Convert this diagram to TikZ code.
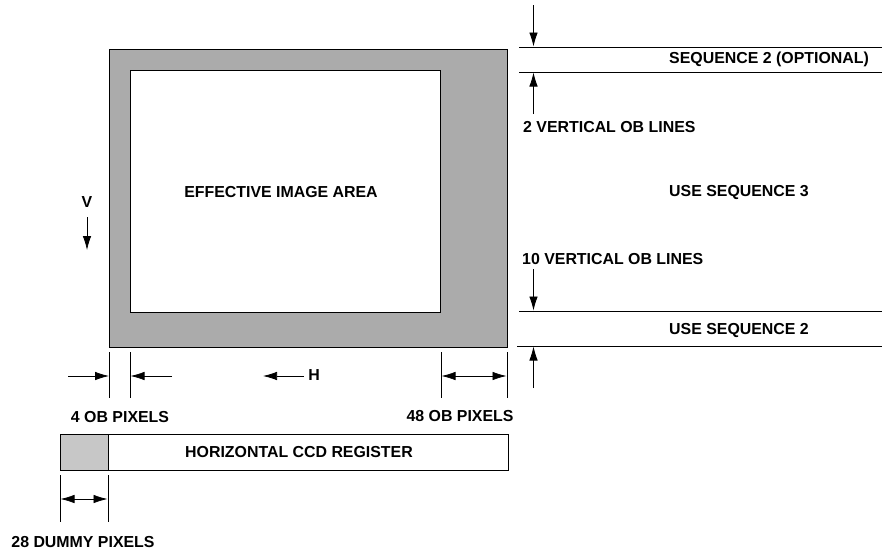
\documentclass[tikz,border=0pt]{standalone}
\usepackage{fontspec}
\setmainfont{Liberation Sans}
\usetikzlibrary{arrows.meta}
\begin{document}
\begin{tikzpicture}[x=1pt,y=-1pt,
 lbl/.style={font=\fontsize{15.9}{18}\selectfont\bfseries,inner sep=0pt},
 box/.style={draw=black,line width=1.1pt,anchor=north west,inner sep=0pt},
 conn/.style={line width=0.75pt},
 arr/.style={line width=0.75pt,-{Latex[length=14pt,width=8.5pt]}},
 darr/.style={line width=0.75pt,{Latex[length=14pt,width=8.5pt]}-{Latex[length=14pt,width=8.5pt]}}]
\useasboundingbox (0,0) rectangle (882,555);
\node[box,fill=black!33,minimum width=398pt,minimum height=298pt] (outer) at (109,49) {};
\node[box,fill=white,minimum width=310pt,minimum height=242pt] (inner) at (130,70) {};
\node[lbl] (eff) at (281,192) {EFFECTIVE IMAGE AREA};
\node[box,fill=white,minimum width=448pt,minimum height=36pt] (reg) at (60,434) {};
\node[box,fill=black!22,minimum width=48pt,minimum height=36pt] (dummy) at (60,434) {};
\node[lbl] (regl) at (299,452) {HORIZONTAL CCD REGISTER};
% direction arrows
\node[lbl] (v) at (87,202) {V};
\coordinate (v1) at (87,217); \coordinate (v2) at (87,250);
\draw[arr] (v1) -- (v2);
\node[lbl] (h) at (314,375) {H};
\coordinate (h1) at (304,376); \coordinate (h2) at (263,376);
\draw[arr] (h1) -- (h2);
% pixel labels
\node[lbl] (ob4) at (120,417) {4 OB PIXELS};
\node[lbl] (ob48) at (460,416) {48 OB PIXELS};
\node[lbl] (dum) at (83,542) {28 DUMMY PIXELS};
% right labels
\node[lbl,anchor=west] (s2o) at (669,59) {SEQUENCE 2 (OPTIONAL)};
\node[lbl,anchor=west] (v2l) at (523,127) {2 VERTICAL OB LINES};
\node[lbl,anchor=west] (s3) at (669,193) {USE SEQUENCE 3};
\node[lbl,anchor=west] (v10l) at (522,259) {10 VERTICAL OB LINES};
\node[lbl,anchor=west] (s2) at (669,331) {USE SEQUENCE 2};
% horizontal rules
\foreach \y/\n/\s in {47/a/519,72/b/519,311/c/519,346/d/517}{
 \coordinate (l\n1) at (\s,\y); \coordinate (l\n2) at (882,\y);
 \draw[conn] (l\n1) -- (l\n2);}
% vertical arrows on the right
\coordinate (a1) at (533.5,5); \coordinate (a2) at (533.5,46.5);
\coordinate (b1) at (533.5,114); \coordinate (b2) at (533.5,72.5);
\coordinate (c1) at (533.5,269); \coordinate (c2) at (533.5,310.5);
\coordinate (d1) at (533.5,388); \coordinate (d2) at (533.5,346.5);
\draw[arr] (a1) -- (a2);
\draw[arr] (b1) -- (b2);
\draw[arr] (c1) -- (c2);
\draw[arr] (d1) -- (d2);
% dimension ticks
\foreach \x/\n in {109.5/p,130/q,441/r,507/s}{
 \coordinate (t\n1) at (\x,352); \coordinate (t\n2) at (\x,398);
 \draw[conn] (t\n1) -- (t\n2);}
\foreach \x/\n in {60/u,108/w}{
 \coordinate (t\n1) at (\x,475); \coordinate (t\n2) at (\x,522);
 \draw[conn] (t\n1) -- (t\n2);}
% dimension arrows
\coordinate (e1) at (68,376); \coordinate (e2) at (109,376);
\coordinate (f1) at (172,376); \coordinate (f2) at (130.5,376);
\draw[arr] (e1) -- (e2);
\draw[arr] (f1) -- (f2);
\coordinate (g1) at (441.5,376); \coordinate (g2) at (506.5,376);
\draw[darr] (g1) -- (g2);
\coordinate (k1) at (60.5,499); \coordinate (k2) at (107.5,499);
\draw[darr] (k1) -- (k2);
\end{tikzpicture}
\end{document}
